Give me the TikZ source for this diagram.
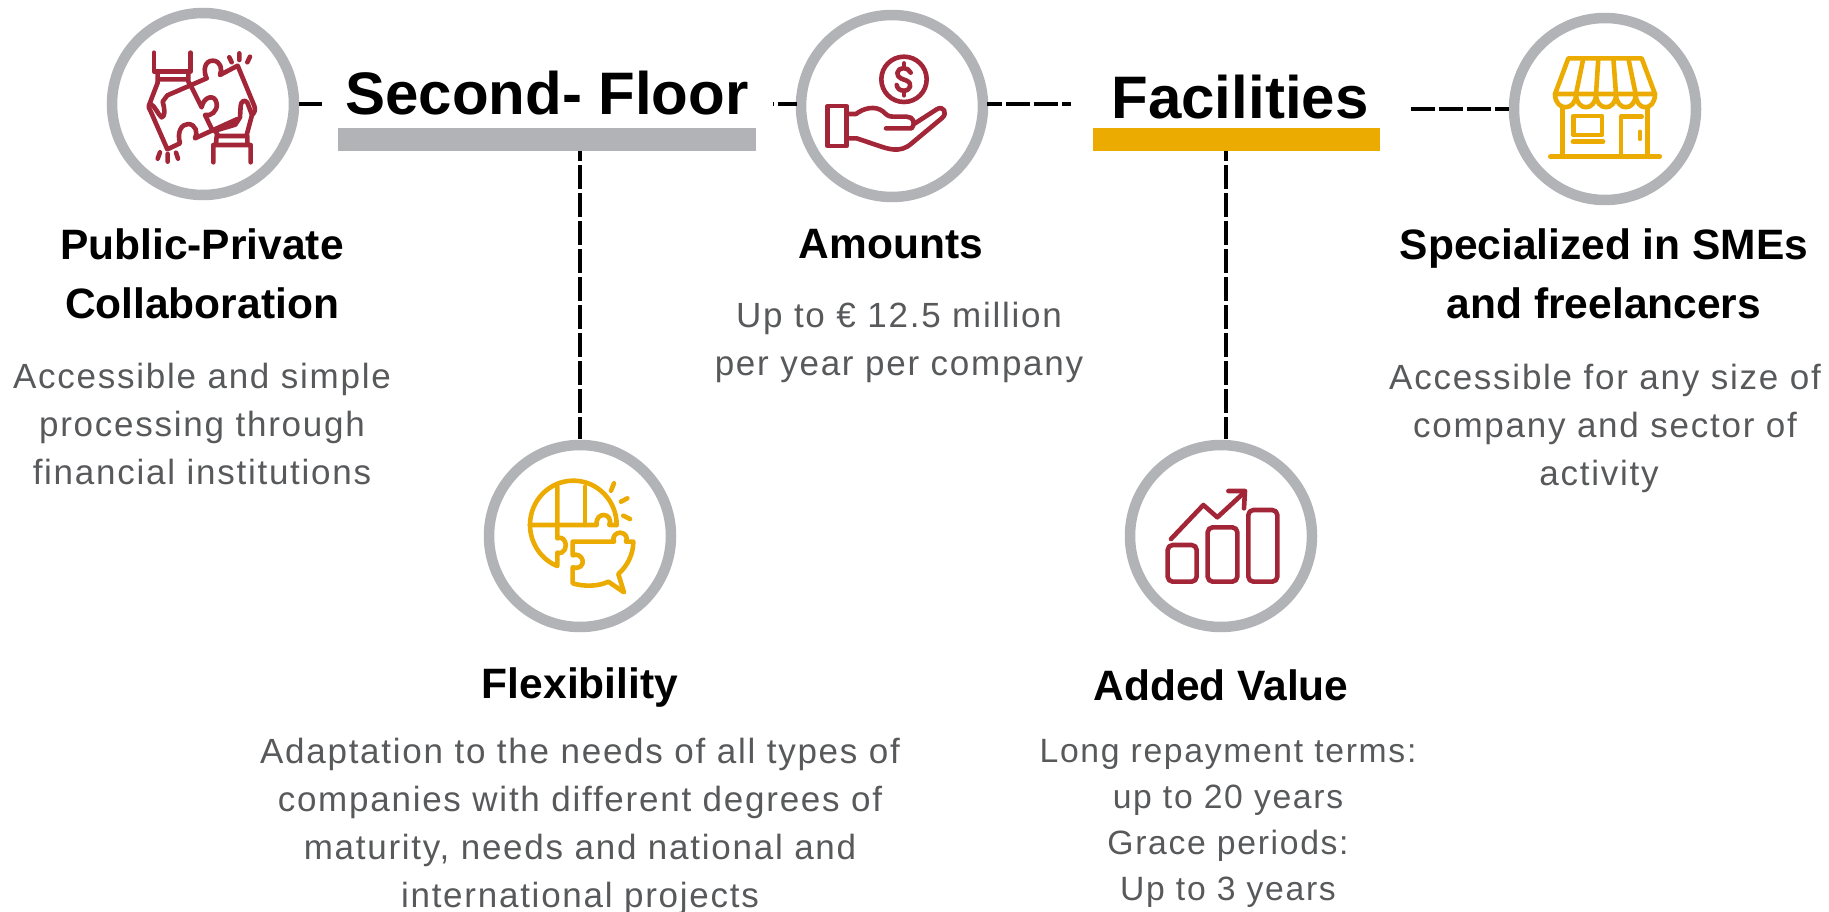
\documentclass[tikz,border=0pt]{standalone}
\usepackage{fontspec}
\setmainfont{Liberation Sans}
\newfontfamily\bodyface[LetterSpace=5]{Liberation Sans}
\definecolor{ringgray}{HTML}{B1B3B6}
\definecolor{wine}{HTML}{A32638}
\definecolor{gold}{HTML}{EBAB00}
\definecolor{bodygray}{HTML}{58595B}
\tikzset{
  ring/.style={circle,draw=ringgray,line width=10.5pt,fill=white,minimum size=182pt,inner sep=0pt},
  bartitle/.style={font=\fontsize{60}{60}\selectfont\bfseries,inner sep=0pt,text=black},
  head/.style={font=\fontsize{42.5}{59}\selectfont\bfseries,align=center,inner sep=0pt,text=black},
  para/.style={font=\fontsize{35}{48}\selectfont\bodyface,align=center,inner sep=0pt,text=bodygray},
  parab/.style={font=\fontsize{33.7}{46}\selectfont\bodyface,align=center,inner sep=0pt,text=bodygray},
  link/.style={draw=black,line width=4.5pt,dash pattern=on 24pt off 4pt},
  icw/.style={draw=wine,line width=4.6pt,line cap=round,line join=round},
  icg/.style={draw=gold,line width=4.6pt,line cap=round,line join=round},
}
\begin{document}
\begin{tikzpicture}[x=1pt,y=-1pt]
\useasboundingbox (0,0) rectangle (1829,912);
\coordinate (barAm) at (580,151);
\coordinate (barBm) at (1226,151);
\node[ring] (c1) at (203,104) {};
\node[ring] (c2) at (892,106) {};
\node[ring] (c3) at (1605,109) {};
\node[ring] (c4) at (580,536) {};
\node[ring] (c5) at (1221,536) {};
\node[bartitle] (t1) at (547,93) {Second- Floor};
\node[bartitle] (t2) at (1240,97) {Facilities};
\fill[ringgray] (338,128) rectangle (756,151);
\fill[gold] (1093,128) rectangle (1380,151);
\coordinate (t1w) at (322,104);
\coordinate (t1e) at (773,104);
\coordinate (t2w) at (1071,104);
\coordinate (t2e) at (1411,109);
\coordinate (c1e) at (299,104);
\coordinate (c2w) at (797,104);
\coordinate (c2e) at (987,104);
\coordinate (c3w) at (1509,109);
\coordinate (c4n) at (580,439);
\coordinate (c5n) at (1226,439);
\draw[link] (c1e) -- (t1w);
\draw[link,dash phase=23pt] (t1e) -- (c2w);
\draw[link,dash phase=9pt] (c2e) -- (t2w);
\draw[link] (t2e) -- (c3w);
\draw[link,dash phase=14pt] (barAm) -- (c4n);
\draw[link,dash phase=14pt] (barBm) -- (c5n);
% texts
\node[head] (h1) at (202,274) {Public-Private\\Collaboration};
\node[head] (h2) at (891,244) {Amounts};
\node[head] (h3) at (1604,274) {Specialized in SMEs\\and freelancers};
\node[head] (h4) at (580,688) {Flexibility};
\node[head] (h5) at (1221,685) {Added Value};
\node[para] (p1) at (202,424) {Accessible and simple\\processing through\\financial institutions};
\node[para] (p2) at (899,342) {Up to € 12.5 million\\per year per company};
\node[para] (p3) at (1605,428) {Accessible for any size of\\company and sector of\\activity\hspace*{12pt}};
\node[para] (p4) at (580,826) {Adaptation to the needs of all types of\\companies with different degrees of\\maturity, needs and national and\\international projects};
\node[parab] (p5) at (1228,823) {Long repayment terms:\\up to 20 years\\Grace periods:\\Up to 3 years};
% icon 1: puzzle and hands
\begin{scope}[shift={(90,0)},scale=1/3]
\draw[icw] (192,158)--(192,215)--(302,215)--(302,158);
\draw[icw] (205,238)--(292,238) (203,217)--(203,248) (295,217)--(295,245)--(305,262);
\draw[icw] (203,248)--(180,308) .. controls (174,320) and (176,326) .. (182,334) -- (232,448) -- (270,430)
  .. controls (260,395) and (275,372) .. (295,372) .. controls (318,374) and (324,398) .. (315,415) -- (440,358);
\draw[icw] (182,312) .. controls (195,318) and (205,345) .. (215,352) .. controls (224,350) and (226,335) .. (218,305)
  -- (232,286) -- (350,235) .. controls (338,210) and (345,182) .. (368,182) .. controls (392,182) and (398,208) .. (390,225) -- (443,197) -- (493,318) .. controls (498,330) and (492,340) .. (486,345) -- (470,405);
\draw[icw] (305,262)--(335,322)  .. controls (340,290) and (375,280) .. (380,310) .. controls (384,335) and (360,350) .. (345,345) -- (368,392);
\draw[icw] (486,345) -- (472,308) .. controls (464,296) and (452,305) .. (452,318) -- (450,352) -- (436,374) -- (375,392) -- (385,408);
\draw[icw] (382,408)--(470,408) (380,408)--(378,432) (472,408)--(472,432) (370,435)--(482,435) (370,435)--(370,487) (482,435)--(482,487);
\draw[icw] (418,172)--(425,187) (448,160)--(448,180) (480,170)--(472,187);
\draw[icw] (210,457)--(203,476) (233,462)--(233,485) (258,458)--(264,476);
\end{scope}
% icon 2: hand and coin
\begin{scope}[shift={(780,0)},scale=1/3]
\draw[icw] (372,238) circle (68);
\draw[icw] (392,218) .. controls (385,200) and (355,200) .. (352,218) .. controls (350,235) and (372,238) .. (380,242) .. controls (398,250) and (392,272) .. (372,272) .. controls (358,272) and (352,265) .. (350,255);
\draw[icw] (372,190)--(372,202) (372,274)--(372,286);
\draw[icw] (143,318) rectangle (200,438);
\draw[icw] (200,342)--(228,342) .. controls (250,325) and (285,315) .. (310,335) .. controls (320,345) and (325,350) .. (340,350) -- (380,350) .. controls (400,350) and (408,370) .. (395,385) -- (318,385);
\draw[icw] (405,370)--(470,328) .. controls (490,315) and (505,340) .. (485,355) -- (395,430) .. controls (360,462) and (320,445) .. (295,437) -- (230,415) -- (200,415);
\end{scope}
% icon 3: shop
\begin{scope}[shift={(1490,0)},scale=1/3]
\draw[icg] (235,175)--(455,175)--(495,282)--(195,282)--cycle;
\draw[icg] (280,175)--(258,282) (325,175)--(318,282) (370,175)--(378,282) (415,175)--(437,282);
\draw[icg] (195,282) .. controls (195,335) and (258,335) .. (258,282) .. controls (258,335) and (318,335) .. (318,282) .. controls (318,335) and (378,335) .. (378,282) .. controls (378,335) and (437,335) .. (437,282) .. controls (437,335) and (495,335) .. (495,282);
\draw[icg] (218,322)--(218,470) (472,322)--(472,470);
\draw[icg,line width=5.5pt] (182,470)--(508,470);
\draw[icg] (250,348) rectangle (336,405);
\draw[icg,line width=5.5pt] (250,425)--(338,425);
\draw[icg] (393,470)--(393,350)--(455,350);
\draw[icg,line width=3.5pt] (450,394)--(450,418);
\end{scope}
% icon 4: globe and puzzle
\begin{scope}[shift={(470,430)},scale=1/3]
\draw[icg] (440,285) arc[start angle=0,end angle=-180,x radius=130,y radius=133];
\draw[icg] (180,285) .. controls (180,340) and (215,390) .. (262,408) -- (262,368) .. controls (285,375) and (292,345) .. (285,335) .. controls (280,322) and (268,322) .. (262,325) -- (262,170);
\draw[icg] (180,285)--(380,285) .. controls (378,260) and (392,255) .. (402,255) .. controls (415,255) and (425,270) .. (418,285) -- (440,285);
\draw[icg] (345,170)--(345,285);
\draw[icg] (308,335)--(432,335) .. controls (425,320) and (438,308) .. (450,308) .. controls (465,308) and (475,322) .. (468,335) -- (490,335) .. controls (490,375) and (470,410) .. (445,432) -- (462,487) -- (415,455) .. controls (385,470) and (340,470) .. (308,460) -- (308,412) .. controls (330,418) and (340,405) .. (338,392) .. controls (336,378) and (320,370) .. (308,376) -- cycle;
\draw[icg] (432,160)--(423,182) (472,205)--(453,215) (480,267)--(460,257);
\end{scope}
% icon 5: chart
\begin{scope}[shift={(1110,430)},scale=1/3]
\draw[icw,rounded corners=5pt] (173,345) rectangle (260,455);
\draw[icw,rounded corners=5pt] (293,292) rectangle (382,455);
\draw[icw,rounded corners=5pt] (415,240) rectangle (502,455);
\draw[icw] (183,327)--(280,225)--(322,262)--(403,187);
\draw[icw] (355,183)--(405,183)--(402,235);
\end{scope}
\end{tikzpicture}
\end{document}
